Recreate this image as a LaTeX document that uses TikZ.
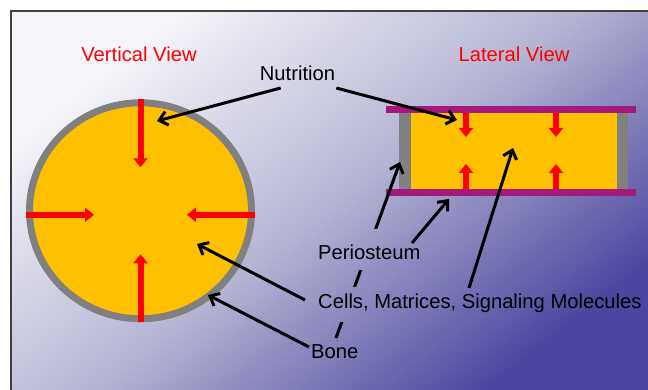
\documentclass[tikz,border=0pt]{standalone}
\usepackage{fontspec}
\setmainfont{Liberation Sans}
\usetikzlibrary{positioning, arrows.meta, shapes.geometric, backgrounds}
\definecolor{goldc}{RGB}{255,192,0}
\definecolor{ringc}{RGB}{128,128,128}
\definecolor{plumc}{RGB}{165,25,125}
\definecolor{bgtop}{RGB}{246,246,250}
\definecolor{bgmid}{RGB}{182,182,212}
\definecolor{bgbot}{RGB}{76,70,160}
\definecolor{framec}{RGB}{64,64,64}

\begin{document}
\begin{tikzpicture}[
  x=1pt, y=1pt,
  font=\fontsize{20.2}{24}\selectfont,
  lbl/.style={inner sep=0pt},
  ttl/.style={inner sep=0pt, anchor=base, text=red},
  bgfill/.style={top color=bgtop, bottom color=bgbot, middle color=bgmid, shading angle=38},
  redarr/.style={draw=red, line width=6pt, -{Triangle[width=14pt,length=9pt]}},
  blkarr/.style={draw=black, line width=3pt, -{Straight Barb[width=14pt,length=8pt]}}
]
\useasboundingbox (0,0) rectangle (648,390);

\node[ttl] (vtitle) at (139,328) {Vertical View};
\node[ttl] (ltitle) at (514,328) {Lateral View};
\node[lbl, anchor=base] (nutri) at (297.5,309) {Nutrition};
\node[lbl, anchor=base west] (peri) at (318,130) {Periosteum};
\node[lbl, anchor=base west] (cells) at (318,81) {Cells, Matrices, Signaling Molecules};
\node[lbl, anchor=base west] (bone) at (311,31) {Bone};

\coordinate (nutdisc) at (157,269);
\coordinate (nutcore) at (457,270);
\coordinate (boneside) at (400,228);
\coordinate (bonedisc) at (208,95);
\coordinate (peribar) at (449,191);
\coordinate (celldisc) at (197,146);
\coordinate (cellcore) at (513,242);

\begin{scope}[on background layer]
  \fill[white] (0,0) rectangle (648,390);
  \shade[bgfill] (11,0) rectangle (648,379);
  \draw[framec, line width=2pt] (11,0) -- (11,379) -- (648,379);

  \node[ellipse, draw=ringc, fill=goldc, line width=7pt, inner sep=0pt,
        minimum width=222pt, minimum height=216pt] (disc) at (140.5,179.2) {};
  \draw[redarr] (disc.north) -- ++(0,-68);
  \draw[redarr] (disc.south) -- ++(0,68);
  \draw[redarr] ([yshift=-4]disc.west) -- ++(68,0);
  \draw[redarr] ([yshift=-4]disc.east) -- ++(-68,0);

  \node[fill=goldc, inner sep=0pt, outer sep=0pt,
        minimum width=206pt, minimum height=76pt] (core) at (514,239) {};
  \fill[ringc] (core.north west) rectangle ([xshift=-12]core.south west);
  \fill[ringc] (core.north east) rectangle ([xshift=11]core.south east);
  \fill[plumc] ([xshift=-25]core.north west) rectangle ([xshift=19,yshift=7]core.north east);
  \fill[plumc] ([xshift=-25]core.south west) rectangle ([xshift=19,yshift=-7]core.south east);
  \draw[redarr] ([xshift=55]core.north west) -- ++(0,-24);
  \draw[redarr] ([xshift=145]core.north west) -- ++(0,-24);
  \draw[redarr] ([xshift=55]core.south west) -- ++(0,25);
  \draw[redarr] ([xshift=145]core.south west) -- ++(0,25);

  \draw[blkarr] ([shift={(25,21)}]bone.base west) -- (boneside);
  \begin{scope}
    \clip ([shift={(-4,-10)}]peri.base west) rectangle ([shift={(4,31)}]peri.base east)
          ([shift={(-4,-13)}]cells.base west) rectangle ([shift={(4,22)}]cells.base east);
    \shade[bgfill] (11,0) rectangle (648,379);
  \end{scope}
\end{scope}

\draw[blkarr] ([shift={(21,-7)}]nutri.base west) -- (nutdisc);
\draw[blkarr] ([shift={(1,-7)}]nutri.base east) -- (nutcore);
\draw[blkarr] ([shift={(94,17)}]peri.base west) -- (peribar);
\draw[blkarr] ([shift={(-13,9)}]cells.base west) -- (celldisc);
\draw[blkarr] ([shift={(151,21)}]cells.base west) -- (cellcore);
\draw[blkarr] ([shift={(-2,12)}]bone.base west) -- (bonedisc);
\end{tikzpicture}
\end{document}
